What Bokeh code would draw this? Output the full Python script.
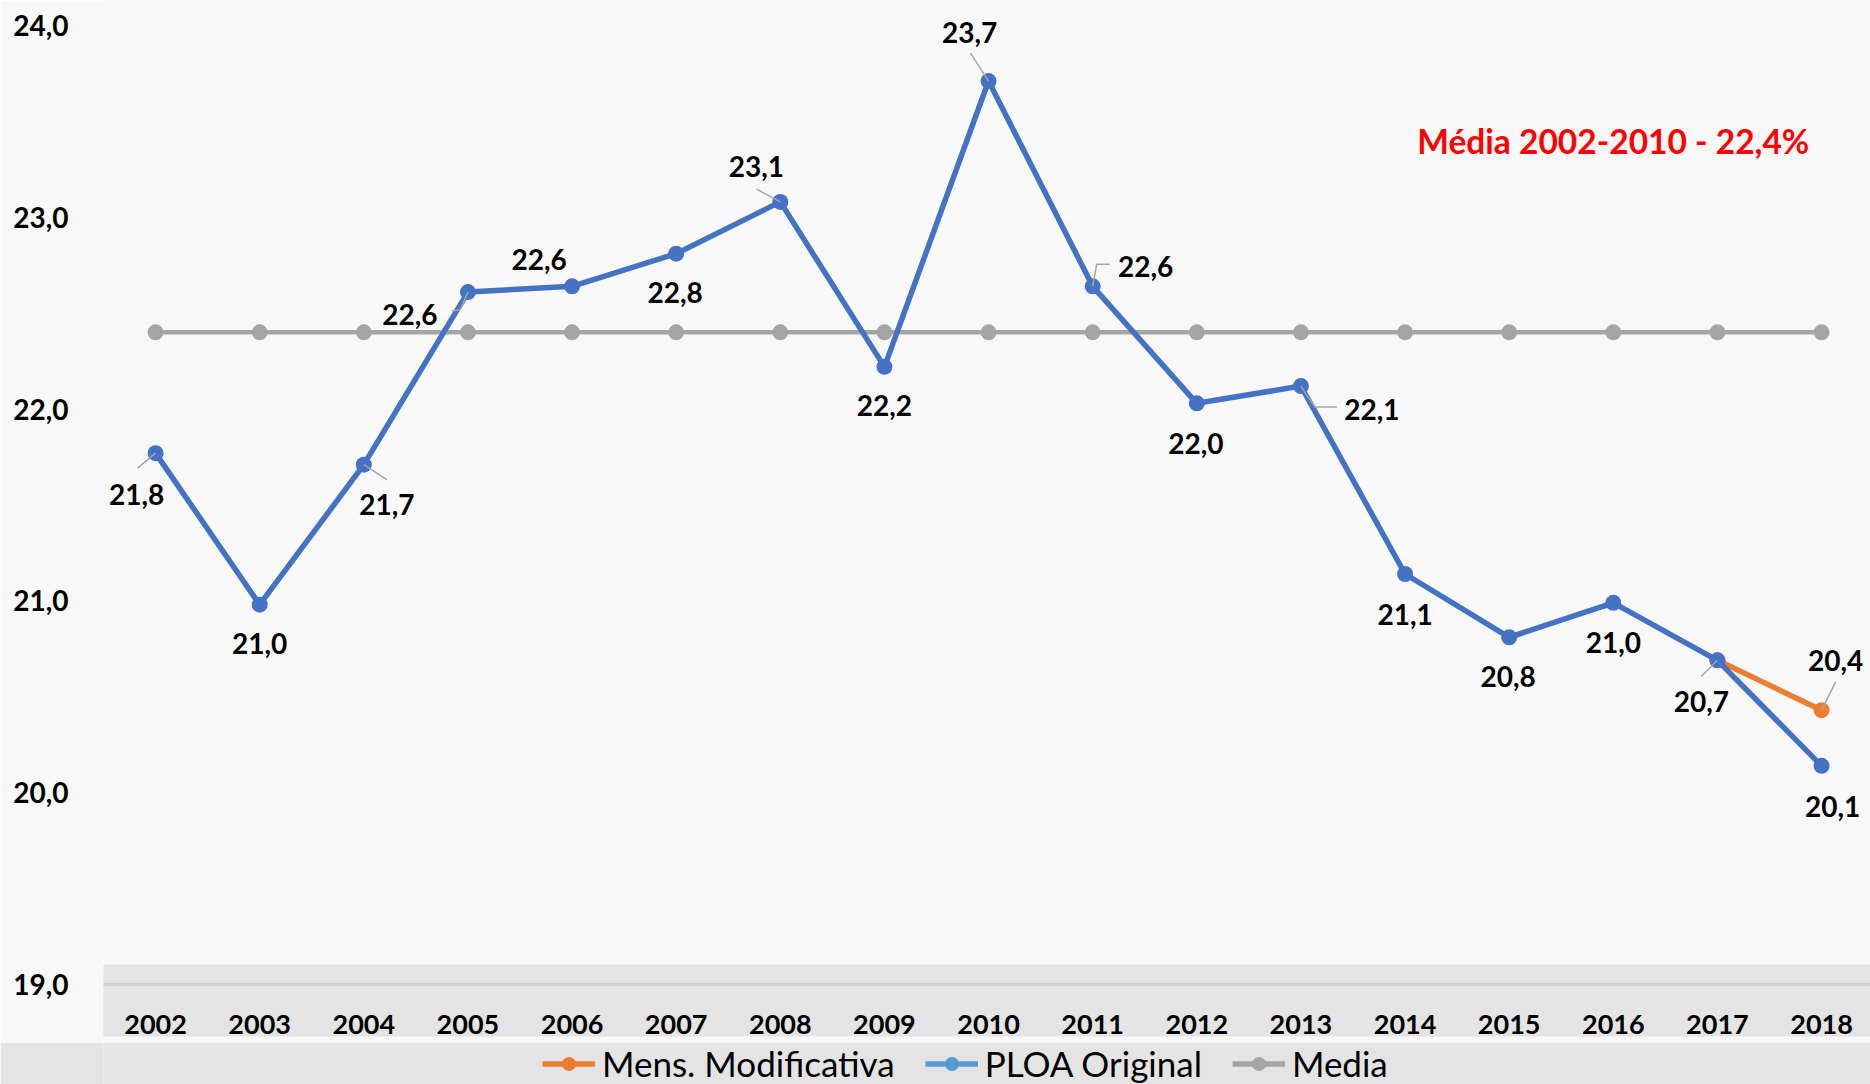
from bokeh.plotting import figure
from bokeh.layouts import column
from bokeh.models import (Range1d, FixedTicker, CustomJSTickFormatter, Legend, LegendItem,
                          ColumnDataSource, Label, BoxAnnotation)
from bokeh.core.properties import value
from bokeh.embed import file_html
from bokeh.resources import INLINE

# ---------------- data ----------------
years = [2002, 2003, 2004, 2005, 2006, 2007, 2008, 2009, 2010,
         2011, 2012, 2013, 2014, 2015, 2016, 2017, 2018]
ploa_original = [21.77, 20.98, 21.71, 22.61, 22.64, 22.81, 23.08, 22.22, 23.71,
                 22.64, 22.03, 22.12, 21.14, 20.81, 20.99, 20.69, 20.14]
ploa_labels = ["21,8", "21,0", "21,7", "22,6", "22,6", "22,8", "23,1", "22,2", "23,7",
               "22,6", "22,0", "22,1", "21,1", "20,8", "21,0", "20,7", "20,1"]
mens_years = [2017, 2018]
mens_modificativa = [20.69, 20.43]
mens_labels = ["", "20,4"]
media = [22.4, 22.4, 22.4, 22.4, 22.4, 22.4, 22.4, 22.4, 22.4,
         22.4, 22.4, 22.4, 22.4, 22.4, 22.4, 22.4, 22.4]
y_ticks = [19, 20, 21, 22, 23, 24]
series_names = ["Mens. Modificativa", "PLOA Original", "Media"]
note_text = "Média 2002-2010 - 22,4%"
note_year, note_level = 2016, 23.4

# ---------------- styles ----------------
C_ORANGE, C_BLUE, C_BLUE_LEG, C_GRAY = "#ed7d31", "#4472c4", "#5b9bd5", "#a5a5a5"
BG_LIGHT, BG_BAND = "#f8f8f8", "#e4e4e4"
FONT = value("Lato")
W = 1870
H_MAIN, H_LEG = 1042, 42
BL, BB = 103, 58
X0, X1 = 2001.5, 2018.47
Y0, Y1 = 19, 24.13
ppx = (W - BL) / (X1 - X0)
ppy = (H_MAIN - BB) / (Y1 - Y0)

# label offsets in pixels (dx right, dy down)
ploa_dx = [-19, 0, 23, -58, -33, -1, -24, 0, -19, 53, -1, 71, 0, -1, 0, -16, 11]
ploa_dy = [41, 39, 40, 22, -27, 39, -35, 39, -49, -20, 40, 23, 40, 39, 40, 41, 41]
mens_dx = [0, 14]
mens_dy = [0, -50]
# leader-line paths in pixels, relative to the point
leader_idx = [0, 2, 3, 6, 8, 9, 11, 15]
leader_paths = [
    [(0, 0), (-18, 15)],
    [(0, 0), (23, 15)],
    [(0, 0), (-8, 18), (-16, 19)],
    [(0, 0), (-24, -13)],
    [(0, 0), (-18, -28)],
    [(0, 0), (4, -22), (17, -22)],
    [(0, 0), (14, 21), (36, 21)],
    [(0, 0), (-16, 16)],
]
mens_leader = [(0, 0), (14, -28)]

p = figure(width=W, height=H_MAIN, output_backend="svg", toolbar_location=None,
           x_range=Range1d(X0, X1), y_range=Range1d(Y0, Y1),
           min_border_left=BL, min_border_right=0, min_border_top=0,
           min_border_bottom=BB,
           background_fill_color=BG_LIGHT, border_fill_color=BG_LIGHT)
p.outline_line_color = None
p.grid.visible = False

# darker band at the bottom of the background (part inside the plot frame)
band = BoxAnnotation(left=0, right=W, top=964, bottom=H_MAIN,
                     left_units="canvas", right_units="canvas",
                     top_units="canvas", bottom_units="canvas",
                     fill_color=BG_BAND, fill_alpha=1, line_color=None,
                     level="underlay")
p.add_layout(band)

# axes
p.xaxis.ticker = FixedTicker(ticks=years)
p.xaxis.formatter = CustomJSTickFormatter(code="return tick.toFixed(0)")
p.xaxis.axis_line_color = "#d2d2d2"
p.xaxis.axis_line_width = 3
p.xaxis.major_tick_line_color = None
p.xaxis.minor_tick_line_color = None
p.xaxis.major_label_standoff = 24
p.xaxis.major_label_text_font = "Lato"
p.xaxis.major_label_text_font_style = "bold"
p.xaxis.major_label_text_font_size = "27px"
p.xaxis.major_label_text_color = "#000000"
p.xaxis.background_fill_color = BG_BAND
p.xaxis.background_fill_alpha = 1

p.yaxis.ticker = FixedTicker(ticks=y_ticks)
p.yaxis.formatter = CustomJSTickFormatter(code="return tick.toFixed(1).replace('.', ',')")
p.yaxis.axis_line_color = None
p.yaxis.major_tick_line_color = None
p.yaxis.minor_tick_line_color = None
p.yaxis.major_label_standoff = 29
p.yaxis.major_label_text_font = "Lato"
p.yaxis.major_label_text_font_style = "bold"
p.yaxis.major_label_text_font_size = "28px"
p.yaxis.major_label_text_color = "#000000"

# series
src_media = ColumnDataSource(dict(x=years, y=media))
src_ploa = ColumnDataSource(dict(x=years, y=ploa_original, t=ploa_labels,
                                 dx=ploa_dx, dy=ploa_dy))
src_mens = ColumnDataSource(dict(x=mens_years, y=mens_modificativa, t=mens_labels,
                                 dx=mens_dx, dy=mens_dy))

p.line("x", "y", source=src_media, line_color=C_GRAY, line_width=4.5)
p.scatter("x", "y", source=src_media, size=16, fill_color=C_GRAY, line_color=None)
p.line("x", "y", source=src_mens, line_color=C_ORANGE, line_width=5.5)
p.scatter("x", "y", source=src_mens, size=16, fill_color=C_ORANGE, line_color=None)
p.line("x", "y", source=src_ploa, line_color=C_BLUE, line_width=5.5)
p.scatter("x", "y", source=src_ploa, size=16, fill_color=C_BLUE, line_color=None)

# leader lines
lxs, lys = [], []
for i, path in zip(leader_idx, leader_paths):
    lxs.append([years[i] + dx / ppx for dx, dy in path])
    lys.append([ploa_original[i] - dy / ppy for dx, dy in path])
lxs.append([mens_years[1] + dx / ppx for dx, dy in mens_leader])
lys.append([mens_modificativa[1] - dy / ppy for dx, dy in mens_leader])
p.multi_line(lxs, lys, line_color="#a6a6a6", line_width=1.5)

# data labels
for src in (src_ploa, src_mens):
    p.text("x", "y", text="t", source=src, x_offset="dx", y_offset="dy",
           text_align="center", text_baseline="middle", text_font=FONT,
           text_font_style="bold", text_font_size="28px", text_color="#000000")

p.add_layout(Label(x=note_year, y=note_level, text=note_text, text_align="center",
                   text_baseline="middle", text_font="Lato", text_font_style="bold",
                   text_font_size="33.5px", text_color="#ff0000"))

# ---------------- legend strip ----------------
lg = figure(width=W, height=H_LEG, output_backend="svg", toolbar_location=None,
            x_range=Range1d(0, 1), y_range=Range1d(0, 1),
            x_axis_location=None, y_axis_location=None,
            min_border_left=0, min_border_right=0, min_border_top=0, min_border_bottom=0,
            background_fill_color=BG_BAND, border_fill_color=BG_BAND)
lg.outline_line_color = None
lg.grid.visible = False
# the series drawn again (outside this strip's visible range) only to carry the swatches
lm_l = lg.line(mens_years, mens_modificativa, line_color=C_ORANGE, line_width=5.5)
lm_s = lg.scatter(mens_years, mens_modificativa, size=15, fill_color=C_ORANGE, line_color=None)
lp_l = lg.line(years, ploa_original, line_color=C_BLUE_LEG, line_width=5.5)
lp_s = lg.scatter(years, ploa_original, size=15, fill_color=C_BLUE_LEG, line_color=None)
ld_l = lg.line(years, media, line_color=C_GRAY, line_width=5.5)
ld_s = lg.scatter(years, media, size=15, fill_color=C_GRAY, line_color=None)

legend = Legend(items=[
    LegendItem(label=series_names[0], renderers=[lm_l, lm_s]),
    LegendItem(label=series_names[1], renderers=[lp_l, lp_s]),
    LegendItem(label=series_names[2], renderers=[ld_l, ld_s]),
], orientation="horizontal", location=(439, 0),
   background_fill_alpha=0, border_line_color=None,
   glyph_width=53, glyph_height=35, label_standoff=7, spacing=30,
   padding=0, margin=0,
   label_text_font="Lato", label_text_font_size="35px", label_text_color="#000000")
lg.add_layout(legend, "center")

layout = column(p, lg, spacing=0)
open("out.html", "w").write(file_html(layout, INLINE))
